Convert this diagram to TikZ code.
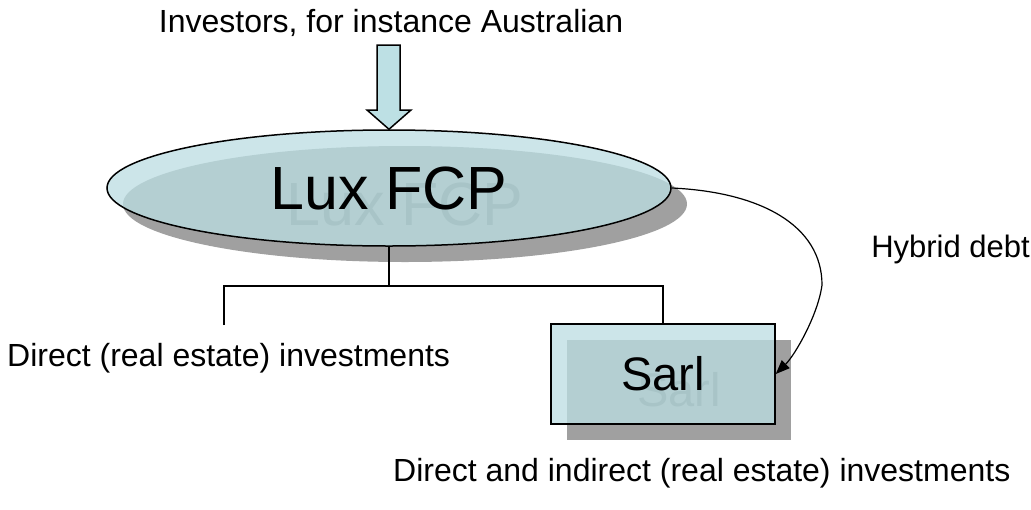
\documentclass[tikz,border=0pt]{standalone}
\usepackage{fontspec}
\setmainfont{Liberation Sans}
\usetikzlibrary{arrows.meta,shapes.geometric}
\definecolor{paleteal}{HTML}{CCE5E9}
\definecolor{shadeteal}{HTML}{B4CFD2}
\definecolor{dropgray}{HTML}{A0A0A0}
\definecolor{ghosttext}{HTML}{A8C4C7}
\definecolor{arrowteal}{HTML}{BDE0E4}
\tikzset{
  outline/.style={draw=black, line width=1.5pt},
  label text/.style={inner sep=0pt, font=\fontsize{32}{38}\selectfont},
  ghost/.style={inner sep=0pt, text=ghosttext},
  link/.style={draw=black, line width=1.5pt},
}
\begin{document}
\begin{tikzpicture}[x=1pt,y=-1pt]
\useasboundingbox (0,0) rectangle (1031,509);

% drop shadows
\fill[dropgray] (405,204) ellipse [x radius=282pt, y radius=58pt];
\fill[dropgray] (567,340) rectangle (791,440);

% fund ellipse body with shadow showing through
\fill[paleteal] (389,188) ellipse [x radius=282pt, y radius=58pt];
\begin{scope}
  \clip (389,188) ellipse [x radius=282pt, y radius=58pt];
  \fill[shadeteal] (405,204) ellipse [x radius=282pt, y radius=58pt];
  \node (ghostfcp) [ghost, font=\fontsize{61}{68}\selectfont] at (405,204) {Lux FCP};
\end{scope}

% company box body
\fill[paleteal] (551,324) rectangle (775,424);
\begin{scope}
  \clip (551,324) rectangle (775,424);
  \fill[shadeteal] (567,340) rectangle (791,440);
  \node (ghostsarl) [ghost, font=\fontsize{47}{54}\selectfont] at (679,390) {Sarl};
\end{scope}

% main shapes
\node (fcp) [ellipse, outline, inner sep=0pt, minimum width=564pt, minimum height=116pt,
  font=\fontsize{61}{68}\selectfont] at (389,188) {Lux FCP};
\node (sarl) [rectangle, outline, inner sep=0pt, minimum width=224pt, minimum height=100pt,
  font=\fontsize{47}{54}\selectfont] at (663,374) {Sarl};

% investor inflow arrow
\node (investors) [label text, anchor=base] at (391,32) {Investors, for instance Australian};
\draw[outline, fill=arrowteal, line join=miter]
  (377,45) -- (400,45) -- (400,110) -- (411,110) -- (fcp.north)
  -- (367,110) -- (377,110) -- cycle;

% holding structure
\coordinate (split) at (389,286);
\coordinate (leftend) at (224,325);
\draw[link] (fcp.south) -- (split);
\draw[link] (leftend) |- (split) -| (sarl.north);

% hybrid debt loan
\draw[link, line width=1.2pt, -{Triangle[length=14pt,width=11pt]}]
  (fcp.east) .. controls (760,192) and (822,225) .. (822,285)
  .. controls (818,315) and (795,355) .. (sarl.east);

% captions
\node (hybrid) [label text, font=\fontsize{31}{37}\selectfont, anchor=base east] at (1030,257) {Hybrid debt};
\node (direct) [label text, anchor=base west] at (7,366) {Direct (real estate) investments};
\node (indirect) [label text, anchor=base west] at (393,481) {Direct and indirect (real estate) investments};
\end{tikzpicture}
\end{document}
